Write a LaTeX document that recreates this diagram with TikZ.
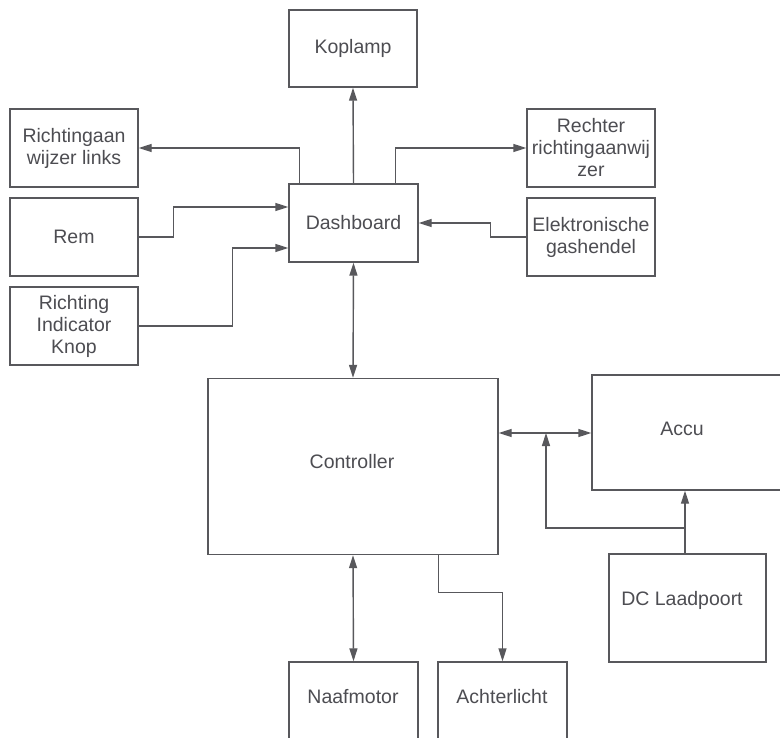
\documentclass[tikz,border=0pt]{standalone}
\usepackage{fontspec}
\setmainfont{Liberation Sans}
\usetikzlibrary{arrows.meta}
\definecolor{linec}{HTML}{58585C}
\definecolor{textc}{HTML}{4D4D52}
\begin{document}
\begin{tikzpicture}[x=1pt,y=-1pt,
  box/.style={draw=linec, line width=1.4pt, inner sep=2pt, align=center, text=textc,
    font=\fontsize{19.5}{22}\selectfont},
  txt/.style={text=textc, inner sep=0pt, font=\fontsize{19.5}{22}\selectfont},
  arr/.style={draw=linec, line width=1.4pt, -{Triangle[length=13pt,width=8pt]}},
  arrb/.style={draw=linec, line width=1.4pt, {Triangle[length=13pt,width=8pt]}-{Triangle[length=13pt,width=8pt]}}]
\useasboundingbox (0,0) rectangle (780,738);
\clip (0,0) rectangle (780,738);
\fill[white] (0,0) rectangle (780,738);
% boxes
\node[box, minimum width=128pt, minimum height=77pt] (kop) at (353,48.5) {Koplamp};
\node[box, minimum width=128pt, minimum height=78pt] (rl) at (74,148) {Richtingaan\\wijzer links};
\node[box, minimum width=128pt, minimum height=78pt] (rem) at (74,237) {Rem};
\node[box, minimum width=128pt, minimum height=78pt] (rik) at (74,326) {Richting\\Indicator\\Knop};
\node[box, minimum width=129pt, minimum height=78pt] (dash) at (353.5,223) {Dashboard};
\node[box, minimum width=128pt, minimum height=78pt] (rr) at (591,148) {Rechter\\richtingaanwij\\zer};
\node[box, minimum width=128pt, minimum height=78pt] (elek) at (591,237) {Elektronische\\gashendel};
\node[box, minimum width=290pt, minimum height=176pt] (ctrl) at (353,466.5) {};
\node[txt] (ctrltxt) at (352,462) {Controller};
\node[box, minimum width=218pt, minimum height=115pt] (accu) at (701,432.5) {};
\node[txt] (accutxt) at (682,429) {Accu};
\node[box, minimum width=157pt, minimum height=108pt] (dc) at (687.5,608) {};
\node[txt] (dctxt) at (682,600) {DC Laadpoort};
\node[box, minimum width=129pt, minimum height=118pt] (naaf) at (353.5,721) {};
\node[txt] (naaftxt) at (353,697) {Naafmotor};
\node[box, minimum width=129pt, minimum height=118pt] (acht) at (502.5,721) {};
\node[txt] (achttxt) at (502,697) {Achterlicht};
% connectors
\draw[arr] (dash.north) -- (kop.south);
\draw[arr] ([xshift=11pt]dash.north west) |- (rl.east);
\draw[arr] ([xshift=-23pt]dash.north east) |- (rr.west);
\draw[arr] (rem.east) -- ++(35,0) |- ([yshift=16pt]dash.west);
\draw[arr] (rik.east) -- ++(94,0) |- ([yshift=-25pt]dash.west);
\draw[arr] (elek.west) -- ++(-36,0) |- (dash.east);
\draw[arrb] (dash.south) -- (ctrl.north);
\coordinate (j) at (546,433);
\coordinate (ac) at (685,528);
\draw[arrb] (ctrl.east |- j) -- (accu.west |- j);
\draw[arr] (dc.north -| ac) -- (accu.south -| ac);
\draw[arr] (ac) -| (j);
\draw[arrb] (ctrl.south) -- (naaf.north);
\draw[arr] ([xshift=-60pt]ctrl.south east) -- ++(0,37) -| (acht.north);
\end{tikzpicture}
\end{document}
